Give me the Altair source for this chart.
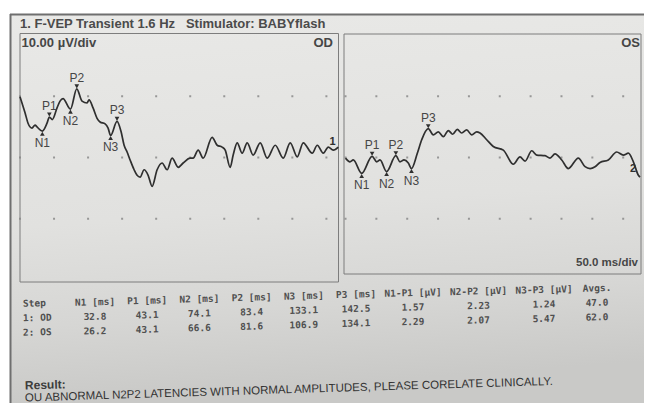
import altair as alt
import pandas as pd

W, H = 636, 395
SANS = "Liberation Sans"
MONO = "DejaVu Sans Mono"
INK = "#2f2f2f"
TXT = "#464646"

# ---------------- data ----------------
PEAKS = ["N1", "P1", "N2", "P2", "N3", "P3"]
OD_LAT = [32.8, 43.1, 74.1, 83.4, 133.1, 142.5]
OS_LAT = [26.2, 43.1, 66.6, 81.6, 106.9, 134.1]
OD_PEAK_UV = [4.3, 6.6, 7.9, 11.2, 3.6, 5.9]
OS_PEAK_UV = [-2.6, 0.2, -2.3, 0.3, -1.8, 4.7]
OD_AMPS = [1.57, 2.23, 1.24]
OS_AMPS = [2.29, 2.07, 5.47]
OD_AVGS = 47.0
OS_AVGS = 62.0

# OD trace (ms, µV) between the marked peaks
OD_T = [0, 2.9, 7.4, 11.8, 17.6, 22.1, 25.0, 39.7, 47.5, 54.4, 58.8, 63.2,
        91.1, 98.5, 101.4, 107.3, 113.2, 117.6, 125.0, 129.4, 148.5, 152.9,
        157.3, 161.7, 167.6, 172.0, 176.4, 182.3, 188.2, 194.0, 201.4, 208.7,
        216.1, 223.4, 232.3, 239.6, 249.9, 254.3, 261.7, 269.0, 282.2, 289.6,
        296.9, 301.4, 308.7, 313.1, 319.0, 326.3, 333.7, 342.5, 352.8, 363.1,
        374.9, 386.6, 396.9, 407.2, 416.0, 429.2, 436.6, 445.4, 452.8, 460.1,
        467.5]
OD_V = [9.9, 8.9, 7.3, 5.6, 4.8, 5.3, 5.0, 5.6, 6.2, 8.1, 9.2, 9.6,
        9.2, 8.9, 9.4, 8.1, 6.4, 5.8, 5.5, 4.8, 4.2, 2.0,
        0.9, -0.4, -2.0, -2.9, -3.2, -2.0, -2.9, -4.7, -2.0, -0.9,
        -2.0, -0.1, -1.6, -0.9, -0.1, -0.1, 1.2, -0.1, 3.3, 2.0,
        1.7, 1.2, -1.6, 0.4, 2.4, 0.7, 2.4, 0.4, 2.4, -0.1,
        2.0, -0.1, 2.4, 0.1, 2.4, 0.7, 2.0, 0.7, 1.7, 1.2,
        1.7]

# OS trace (ms, µV) between the marked peaks
OS_T = [0, 7.3, 12.6, 50.6, 55.9, 88.3, 94.8, 101.8, 116.4, 123.5,
        142.3, 150.4, 158.5, 166.6, 173.7, 181.2, 188.3, 196.4, 204.5, 212.6,
        218.0, 228.8, 239.5, 255.8, 272.0, 282.8, 290.9, 301.8, 309.9, 323.3,
        331.4, 339.5, 350.4, 361.1, 377.3, 388.2, 396.3, 404.4, 412.5, 425.9,
        439.5, 450.2, 458.4, 466.5, 474.6, 477.3]
OS_V = [-0.1, -0.7, -0.4, -0.7, -0.4, -0.7, -0.4, -0.9, 0.7, 2.9,
        3.7, 4.2, 3.4, 4.4, 3.8, 4.6, 4.0, 4.5, 3.7, 4.2,
        4.0, 2.9, 1.8, 1.2, -1.1, 0.1, -0.6, 1.1, 0.4, 0.3,
        -0.1, 0.6, -0.4, -1.8, -0.1, -1.5, -1.8, -1.5, -0.8, -0.4,
        0.9, 0.4, 0.7, -0.7, -2.9, -3.2]

# trace number tags at the end of each sweep (ms, µV)
OD_TAG = [459.0, 2.6]
OS_TAG = [466.0, -1.8]

GRID_T = [0, 50, 100, 150, 200, 250, 300, 350, 400, 450]
GRID_V = [-10, 0, 10]

STEP_LABELS = ["Step", "1: OD", "2: OS"]
COLUMNS = ["N1 [ms]", "P1 [ms]", "N2 [ms]", "P2 [ms]", "N3 [ms]", "P3 [ms]",
           "N1-P1 [µV]", "N2-P2 [µV]", "N3-P3 [µV]", "Avgs."]

TITLE = "1. F-VEP Transient 1.6 Hz\u00a0\u00a0\u00a0Stimulator: BABYflash"
RESULT_HEAD = "Result:"
RESULT_TEXT = "OU ABNORMAL N2P2 LATENCIES WITH NORMAL AMPLITUDES, PLEASE CORELATE CLINICALLY."

# ---------------- scales ----------------
def xL():
    return alt.Scale(domain=[0, 470], range=[12, 332], nice=False, zero=False)

def xR():
    return alt.Scale(domain=[0, 480], range=[337.5, 633.7], nice=False, zero=False)

def yS():
    return alt.Scale(domain=[-20, 20], range=[272, 27], nice=False, zero=False)

ONE = alt.Data(values=[{"k": 0}])


def note(text, x, y, size, weight="normal", align="left", color=TXT, font=SANS, angle=0):
    kw = dict(text=text, align=align, baseline="middle", font=font, fontSize=size,
              fontWeight=weight, color=color)
    if angle:
        kw["angle"] = angle
    return alt.Chart(ONE).mark_text(**kw).encode(x=alt.value(x), y=alt.value(y))


def box(x, x2, y, y2, **kw):
    return alt.Chart(ONE).mark_rect(**kw).encode(
        x=alt.value(x), x2=alt.value(x2), y=alt.value(y), y2=alt.value(y2))


def seg(x, x2, y, y2, **kw):
    return alt.Chart(ONE).mark_rule(**kw).encode(
        x=alt.value(x), x2=alt.value(x2), y=alt.value(y), y2=alt.value(y2))


# ---------------- paper & frames ----------------
paper = box(0, W, 0, H, fill=alt.LinearGradient(
    gradient="linear", x1=0, y1=0, x2=0.12, y2=1,
    stops=[alt.GradientStop(color="#e9e9e7", offset=0),
           alt.GradientStop(color="#e1e1df", offset=0.55),
           alt.GradientStop(color="#d6d6d4", offset=0.8),
           alt.GradientStop(color="#c9c9c7", offset=1)]))
white_top = box(0, W, 0, 6, fill="white")
white_left = box(0, 2, 0, H, fill="white")
border_top = seg(2, W, 6.5, 6.5, color="#6f6f6f", strokeWidth=2)
border_left = seg(2.5, 2.5, 6, H, color="#6f6f6f", strokeWidth=2)

frame_L = box(12, 330.5, 25.5, 274, fillOpacity=0, stroke="#7d7d7d", strokeWidth=1)
frame_R = box(336, 633, 26, 266, fillOpacity=0, stroke="#7d7d7d", strokeWidth=1)

# ---------------- panels ----------------
grid_df = pd.DataFrame([(t, v) for t in GRID_T for v in GRID_V], columns=["t", "v"])


def grid(xs):
    return alt.Chart(grid_df).mark_square(size=4, color="#8a8a8a", opacity=0.85).encode(
        x=alt.X("t:Q", scale=xs, axis=None), y=alt.Y("v:Q", scale=yS(), axis=None))


def trace(T, V, lat, amp, xs):
    df = pd.DataFrame({"t": T + lat, "v": V + amp}).sort_values("t")
    return alt.Chart(df).mark_line(color=INK, strokeWidth=1.7, interpolate="monotone").encode(
        x=alt.X("t:Q", scale=xs, axis=None), y=alt.Y("v:Q", scale=yS(), axis=None))


def peak_layers(lat, amp, scale_fn):
    df = pd.DataFrame({"peak": PEAKS, "t": lat, "v": amp})
    pos = df[df.peak.str.startswith("P")]
    neg = df[df.peak.str.startswith("N")]
    out = []
    for sub, shape, off, dy in [(pos, "triangle-down", -2.5, -11), (neg, "triangle-up", 2.5, 12)]:
        out.append(alt.Chart(sub).mark_point(shape=shape, filled=True, size=22, color=INK,
                                             opacity=1, yOffset=off).encode(
            x=alt.X("t:Q", scale=scale_fn(), axis=None),
            y=alt.Y("v:Q", scale=yS(), axis=None)))
        out.append(alt.Chart(sub).mark_text(font=SANS, fontSize=12, color=TXT, dy=dy,
                                            baseline="middle", align="center").encode(
            x=alt.X("t:Q", scale=scale_fn(), axis=None),
            y=alt.Y("v:Q", scale=yS(), axis=None),
            text="peak:N"))
    return out


def tag(text, pt, scale_fn):
    df = pd.DataFrame({"t": [pt[0]], "v": [pt[1]], "s": [text]})
    return alt.Chart(df).mark_text(font=SANS, fontSize=11, fontWeight="bold", color=INK,
                                   baseline="middle", align="center").encode(
        x=alt.X("t:Q", scale=scale_fn(), axis=None),
        y=alt.Y("v:Q", scale=yS(), axis=None), text="s:N")


# ---------------- table ----------------
rows = []
for r, s in enumerate(STEP_LABELS):
    rows.append({"c": 0, "r": r, "s": s})
for c, s in enumerate(COLUMNS, start=1):
    rows.append({"c": c, "r": 0, "s": s})
for r, (lat, amps, avg) in enumerate([(OD_LAT, OD_AMPS, OD_AVGS), (OS_LAT, OS_AMPS, OS_AVGS)], start=1):
    vals = [f"{x:.1f}" for x in lat] + [f"{x:.2f}" for x in amps] + [f"{avg:.1f}"]
    for c, s in enumerate(vals, start=1):
        rows.append({"c": c, "r": r, "s": s})
table_df = pd.DataFrame(rows)


def table_layer(df, align):
    return alt.Chart(df).transform_calculate(yu="datum.r - 0.107 * datum.c").mark_text(
        font=MONO, fontSize=9.5, fontWeight="bold", color="#4f4f4f", align=align,
        baseline="middle", angle=358.4).encode(
        x=alt.X("c:Q", axis=None, scale=alt.Scale(domain=[0, 1, 6, 7, 9, 10],
                                                  range=[15, 87, 348, 405, 536, 589],
                                                  nice=False, zero=False)),
        y=alt.Y("yu:Q", axis=None, scale=alt.Scale(domain=[0, 2], range=[295.85, 324.85],
                                                   nice=False, zero=False)),
        text="s:N")


table_left = table_layer(table_df[table_df.c == 0], "left")
table_body = table_layer(table_df[table_df.c > 0], "center")

layers = [
    paper, white_top, white_left, border_top, border_left,
    frame_L, frame_R,
    grid(xL()), grid(xR()),
    trace(OD_T, OD_V, OD_LAT, OD_PEAK_UV, xL()),
    trace(OS_T, OS_V, OS_LAT, OS_PEAK_UV, xR()),
    *peak_layers(OD_LAT, OD_PEAK_UV, xL),
    *peak_layers(OS_LAT, OS_PEAK_UV, xR),
    tag("1", OD_TAG, xL), tag("2", OS_TAG, xR),
    note(TITLE, 12, 15.5, 13, weight="bold", color="#4b4b4b"),
    note("10.00 µV/div", 13.5, 35, 13, weight="bold"),
    note("OD", 325, 35, 13, weight="bold", align="right"),
    note("OS", 632, 35, 13, weight="bold", align="right"),
    note("50.0 ms/div", 630, 254.5, 11.5, weight="bold", align="right"),
    table_left, table_body,
    note(RESULT_HEAD, 17, 377.5, 12, weight="bold", color="#3c3c3c", angle=358.3),
    note(RESULT_TEXT, 17, 390.5, 11.5, color="#333333", angle=358.2),
]

chart = alt.layer(*layers).resolve_scale(x="independent", y="independent").properties(
    width=W, height=H, padding=0, background="#e6e6e4",
    autosize=alt.AutoSizeParams(type="none"),
).configure_view(strokeWidth=0)

chart.save("out.html", embed_options={"renderer": "svg", "actions": False})
